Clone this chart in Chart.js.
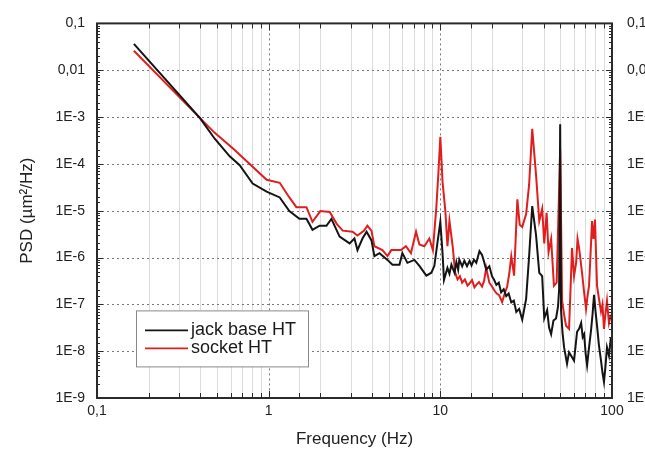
<!DOCTYPE html>
<html>
<head>
<meta charset="utf-8">
<script src="https://cdn.jsdelivr.net/npm/chart.js@4.4.0/dist/chart.umd.min.js"></script>
<style>
  html, body { margin: 0; padding: 0; background: #fff; overflow: hidden; }
  #wrap { width: 680px; height: 453px; }
</style>
</head>
<body>
<div id="wrap"><canvas id="psdChart" width="680" height="453"></canvas></div>
<script>
// Values (Hz, um^2/Hz)
const jackFreq = [0.164, 0.397, 0.485, 0.593, 0.678, 0.807, 0.973, 1.16, 1.32, 1.51, 1.66, 1.80, 1.98, 2.17, 2.32,
    2.59, 2.96, 3.16, 3.29, 3.52, 3.72, 3.97, 4.13, 4.42, 4.92, 5.26, 5.78, 6.01, 6.43, 7.06, 7.55, 8.29, 8.87,
    9.23, 9.61, 10.0, 10.3, 10.5, 11.0, 11.3, 11.6, 12.1, 12.4, 12.7, 12.9, 13.4, 13.8, 14.3, 14.8, 15.2, 15.7,
    16.2, 16.9, 17.5, 18.0, 18.5, 19.3, 20.0, 20.6, 21.2, 21.9, 22.6, 23.4, 24.2, 25.0, 25.9, 26.8, 27.7, 28.8,
    30.0, 31.6, 32.9, 34.3, 36.1, 37.7, 39.2, 40.3, 41.9, 43.0, 44.2, 45.6, 47.2, 48.5, 49.2, 49.9, 50.5, 51.5,
    52.6, 54.7, 56.2, 57.8, 60.1, 62.6, 64.3, 66.1, 67.5, 68.8, 70.2, 71.6, 73.5, 75.5, 77.0, 78.6, 80.2, 81.8,
    84.0, 86.3, 88.0, 89.8, 91.5, 93.5, 96.0, 98.6];
const jackPsd = [3.65e-2, 9.6e-4, 3.44e-4, 1.45e-4, 9.4e-5, 3.8e-5, 2.56e-5, 1.92e-5, 9.8e-6, 6.7e-6, 6.7e-6, 3.9e-6,
    4.77e-6, 4.77e-6, 6.68e-6, 2.8e-6, 2.0e-6, 2.55e-6, 1.44e-6, 2.55e-6, 3.57e-6, 2.32e-6, 1.07e-6, 1.24e-6, 8.9e-7,
    7.0e-7, 7.0e-7, 1.24e-6, 7.7e-7, 8.9e-7, 6.65e-7, 4.1e-7, 4.74e-7, 6.65e-7, 2.0e-6, 5.8e-6, 1.24e-6, 3.3e-7,
    6.0e-7, 4.5e-7, 7.0e-7, 4.7e-7, 8.0e-7, 5.5e-7, 9.0e-7, 6.5e-7, 8.5e-7, 6.5e-7, 8.5e-7, 6.8e-7, 9.0e-7,
    7.7e-7, 1.37e-6, 1.13e-6, 8.0e-7, 5.5e-7, 6.5e-7, 4.0e-7, 3.3e-7, 2.6e-7, 2.9e-7, 1.8e-7, 2.1e-7, 1.5e-7,
    1.7e-7, 1.1e-7, 1.2e-7, 6.9e-8, 8.0e-8, 4.7e-8, 1.3e-7, 1.07e-6, 1.25e-5, 3.0e-6, 4.7e-7, 4.0e-7, 5.0e-8,
    7.5e-8, 3.2e-8, 2.3e-8, 4.5e-8, 5.0e-8, 9.0e-8, 2.1e-7, 7.0e-4, 7.5e-8, 2.5e-8, 1.2e-8, 5.4e-9, 9.5e-9,
    8.0e-9, 6.3e-9, 2.6e-8, 3.0e-8, 4.0e-8, 2.0e-8, 2.3e-8, 9.0e-9, 5.0e-9, 1.2e-8, 2.8e-8, 6.0e-8, 1.6e-7,
    7.0e-8, 3.5e-8, 1.3e-8, 6.3e-9, 3.5e-9, 2.2e-9, 4.5e-9, 1.2e-8, 8.0e-9, 2.0e-8];

const socketFreq = [0.164, 0.397, 0.485, 0.62, 0.973, 1.16, 1.32, 1.45, 1.66, 1.80, 2.0, 2.27, 2.49, 2.70, 3.08,
    3.29, 3.60, 3.76, 3.97, 4.13, 4.60, 4.92, 5.18, 5.90, 6.30, 6.74, 7.22, 7.55, 8.07, 8.63, 9.05, 9.48, 9.75,
    10.0, 10.3, 10.7, 11.0, 11.3, 11.8, 12.2, 12.6, 13.0, 13.4, 13.9, 14.4, 14.8, 15.3, 15.8, 16.2, 16.8, 17.5,
    18.0, 18.5, 19.3, 20.0, 20.6, 21.3, 22.0, 22.9, 23.6, 24.5, 25.2, 25.9, 26.9, 28.1, 29.0, 30.0, 31.6, 32.9,
    34.3, 36.1, 37.7, 39.2, 40.3, 41.6, 42.7, 44.2, 45.9, 47.6, 49.9, 51.2, 52.6, 54.0, 56.2, 57.3, 58.5, 60.1,
    61.8, 63.0, 64.3, 67.0, 68.8, 70.6, 72.0, 73.5, 75.0, 76.5, 78.0, 79.6, 81.8, 84.0, 86.3, 88.0, 89.8, 91.5,
    93.5, 96.0, 98.6];
const socketPsd = [2.6e-2, 9.6e-4, 4.6e-4, 2.13e-4, 4.57e-5, 3.95e-5, 1.92e-5, 1.19e-5, 1.19e-5, 5.8e-6, 9.8e-6,
    9.35e-6, 5.25e-6, 3.75e-6, 3.57e-6, 2.94e-6, 3.75e-6, 4.77e-6, 3.75e-6, 1.74e-6, 1.44e-6, 1.07e-6, 1.44e-6,
    1.44e-6, 1.74e-6, 1.24e-6, 3.57e-6, 1.9e-6, 1.74e-6, 2.55e-6, 1.44e-6, 1.19e-5, 6.7e-5, 3.8e-4, 4.15e-5,
    9.8e-6, 1.74e-6, 6.07e-6, 1.74e-6, 4.74e-7, 3.4e-7, 4.0e-7, 2.9e-7, 3.4e-7, 2.5e-7, 2.8e-7, 3.3e-7, 2.3e-7,
    2.6e-7, 3.0e-7, 2.4e-7, 3.2e-7, 6.0e-7, 2.9e-7, 2.4e-7, 2.0e-7, 1.7e-7, 1.57e-7, 1.12e-7, 1.6e-7, 2.4e-7,
    4.5e-7, 1.07e-6, 4.1e-7, 1.75e-5, 5.0e-6, 4.5e-6, 8.5e-6, 3.59e-5, 5.6e-4, 5.8e-5, 6.0e-6, 1.1e-5, 2.0e-6,
    9.0e-6, 1.3e-6, 2.5e-6, 2.5e-7, 2.9e-7, 2.0e-4, 1.2e-7, 6.0e-8, 3.5e-8, 3.0e-8, 2.0e-7, 1.6e-6, 4.0e-7,
    7.7e-7, 2.5e-6, 1.6e-6, 4.5e-7, 1.8e-7, 8.0e-8, 1.5e-7, 2.5e-7, 1.2e-6, 6.0e-6, 2.5e-6, 6.5e-6, 2.5e-7,
    1.3e-7, 7.0e-8, 1.0e-7, 3.0e-8, 6.0e-8, 1.2e-7, 4.0e-8, 6.0e-8];

const seriesNames = ['jack base HT', 'socket HT'];
const xTickLabels = ['0,1', '1', '10', '100'];                 // decades -1 .. 2
const yTickLabels = ['1E-9', '1E-8', '1E-7', '1E-6', '1E-5', '1E-4', '1E-3', '0,01', '0,1'];  // decades -9 .. -1

const FONT = '"Liberation Sans", Arial, sans-serif';
const BLACK = '#141414';
const RED = '#e01e1e';

// returns the exponent if v is an exact power of ten, else null
function decadeOf(v) {
    const l = Math.log10(v);
    const r = Math.round(l);
    return Math.abs(l - r) < 1e-6 ? r : null;
}

function xLabel(v) {
    const d = decadeOf(v);
    return d === null ? '' : xTickLabels[d + 1];
}

function yLabel(v) {
    const d = decadeOf(v);
    return d === null ? '' : yTickLabels[d + 9];
}

// Origin-like frame: dotted major grid, light minor grid, inward ticks, boxed legend
const framePlugin = {
    id: 'frame',
    beforeDatasetsDraw(chart) {
        const { ctx, chartArea: a, scales: { x, y } } = chart;
        ctx.save();
        ctx.lineWidth = 1;
        x.ticks.forEach(t => {
            const px = Math.round(x.getPixelForValue(t.value)) + 0.5;
            if (px <= a.left + 2 || px >= a.right - 2) return;
            ctx.beginPath();
            if (decadeOf(t.value) !== null) {
                ctx.strokeStyle = '#777';
                ctx.setLineDash([2, 3]);
            } else {
                ctx.strokeStyle = '#dcdcdc';
                ctx.setLineDash([]);
            }
            ctx.moveTo(px, a.top);
            ctx.lineTo(px, a.bottom);
            ctx.stroke();
        });
        ctx.strokeStyle = '#777';
        ctx.setLineDash([2, 3]);
        y.ticks.forEach(t => {
            if (decadeOf(t.value) === null) return;
            const py = Math.round(y.getPixelForValue(t.value)) + 0.5;
            if (py <= a.top + 2 || py >= a.bottom - 2) return;
            ctx.beginPath();
            ctx.moveTo(a.left, py);
            ctx.lineTo(a.right, py);
            ctx.stroke();
        });
        ctx.restore();
    },
    afterDatasetsDraw(chart) {
        const { ctx, chartArea: a, scales: { x, y } } = chart;
        ctx.save();
        ctx.strokeStyle = '#2a2a2a';
        ctx.lineWidth = 1;
        ctx.setLineDash([]);
        x.ticks.forEach(t => {
            const px = Math.round(x.getPixelForValue(t.value)) + 0.5;
            const len = decadeOf(t.value) !== null ? 7 : 5;
            ctx.beginPath();
            ctx.moveTo(px, a.bottom);
            ctx.lineTo(px, a.bottom - len);
            ctx.moveTo(px, a.top);
            ctx.lineTo(px, a.top + len);
            ctx.stroke();
        });
        y.ticks.forEach(t => {
            const py = Math.round(y.getPixelForValue(t.value)) + 0.5;
            const len = decadeOf(t.value) !== null ? 6 : 3;
            ctx.beginPath();
            ctx.moveTo(a.left, py);
            ctx.lineTo(a.left + len, py);
            ctx.moveTo(a.right, py);
            ctx.lineTo(a.right - len, py);
            ctx.stroke();
        });
        ctx.lineWidth = 2;
        ctx.strokeRect(a.left, a.top, a.right - a.left, a.bottom - a.top);

        // legend box, lower left inside the plot
        const bx = a.left + 39, by = a.top + 287, bw = 172, bh = 56;
        ctx.fillStyle = '#fff';
        ctx.fillRect(bx, by, bw, bh);
        ctx.lineWidth = 1;
        ctx.strokeStyle = '#8a8a8a';
        ctx.strokeRect(bx + 0.5, by + 0.5, bw, bh);
        const colors = [BLACK, RED];
        ctx.font = '18px ' + FONT;
        ctx.textBaseline = 'middle';
        seriesNames.forEach((name, i) => {
            const ly = by + 20 + i * 18;
            ctx.strokeStyle = colors[i];
            ctx.lineWidth = 1.8;
            ctx.beginPath();
            ctx.moveTo(bx + 9, ly);
            ctx.lineTo(bx + 52, ly);
            ctx.stroke();
            ctx.fillStyle = '#1a1a1a';
            ctx.fillText(name, bx + 55, ly);
        });
        ctx.restore();
    }
};

const tickFont = { family: FONT, size: 14 };
const titleFont = { family: FONT, size: 17 };

const ctx = document.getElementById('psdChart').getContext('2d');
new Chart(ctx, {
    type: 'line',
    data: {
        datasets: [{
            label: seriesNames[0],
            data: jackFreq.map((f, i) => ({ x: f, y: jackPsd[i] })),
            borderColor: BLACK,
            borderWidth: 2,
            pointRadius: 0,
            tension: 0,
            fill: false
        }, {
            label: seriesNames[1],
            data: socketFreq.map((f, i) => ({ x: f, y: socketPsd[i] })),
            borderColor: RED,
            borderWidth: 2,
            pointRadius: 0,
            tension: 0,
            fill: false
        }]
    },
    options: {
        responsive: false,
        animation: false,
        layout: { padding: { top: 15, left: 0, right: 0, bottom: 0 } },
        plugins: {
            legend: { display: false },
            tooltip: { enabled: false }
        },
        scales: {
            x: {
                type: 'logarithmic',
                position: 'bottom',
                min: 0.1,
                max: 100,
                afterFit: s => { s.height = 55; },
                grid: { display: false, drawTicks: false },
                border: { display: false },
                ticks: { autoSkip: false, maxRotation: 0, padding: 5, color: '#222', font: tickFont, callback: xLabel },
                title: { display: true, text: 'Frequency (Hz)', color: '#222', font: titleFont, padding: { top: 0, bottom: 3 } }
            },
            y: {
                type: 'logarithmic',
                position: 'left',
                min: 1e-9,
                max: 0.1,
                afterFit: s => { s.width = 97; },
                grid: { display: false, drawTicks: false },
                border: { display: false },
                ticks: { autoSkip: false, padding: 12, color: '#222', font: tickFont, callback: yLabel },
                title: { display: true, text: 'PSD (µm²/Hz)', color: '#222', font: titleFont, padding: { top: 17, bottom: 0 } }
            },
            y2: {
                type: 'logarithmic',
                position: 'right',
                min: 1e-9,
                max: 0.1,
                afterFit: s => { s.width = 68; },
                grid: { display: false, drawTicks: false },
                border: { display: false },
                ticks: { autoSkip: false, padding: 15, color: '#222', font: tickFont, callback: yLabel }
            }
        }
    },
    plugins: [framePlugin]
});
</script>
</body>
</html>
